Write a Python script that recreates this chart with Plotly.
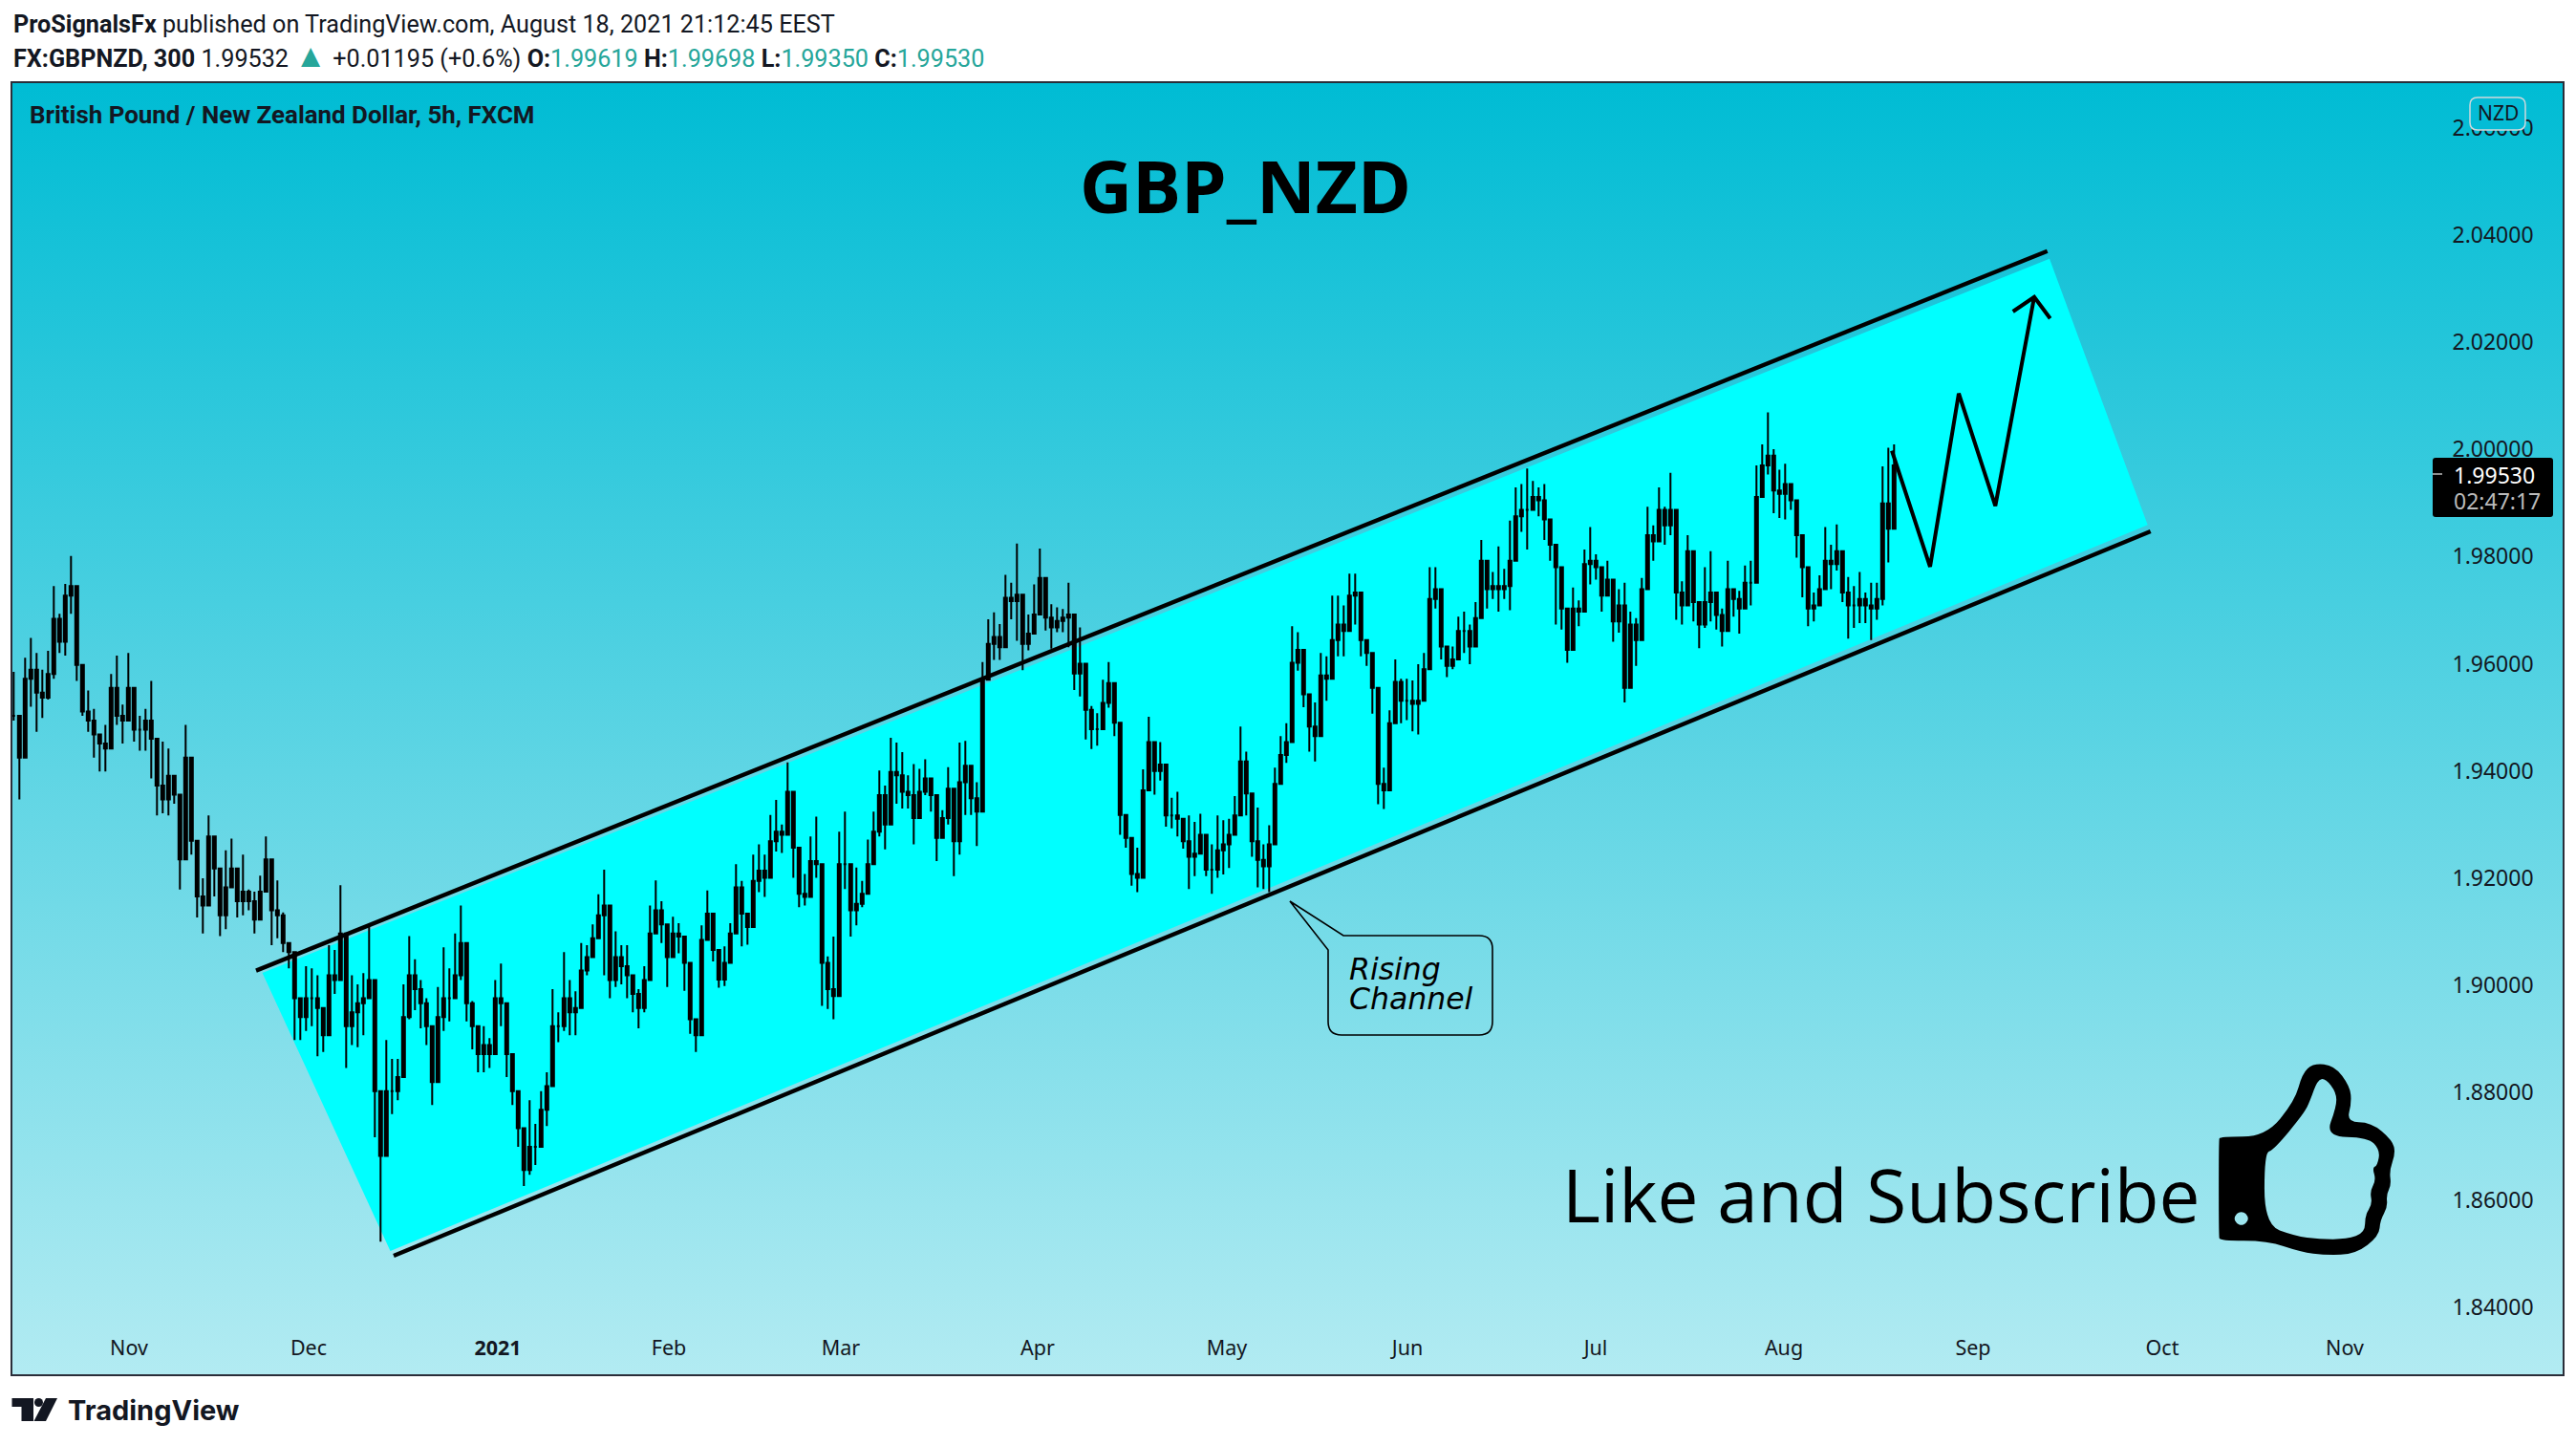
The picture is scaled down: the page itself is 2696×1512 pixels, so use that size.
import base64

import plotly.graph_objects as go

# GBPNZD 5h, sampled every third bar
bar_high = [
    1.9585, 1.9503, 1.9611, 1.9648, 1.9620, 1.9589, 1.9624, 1.9745, 1.9693, 1.9749,
    1.9801, 1.9632, 1.9589, 1.9550, 1.9516, 1.9468, 1.9486, 1.9581, 1.9615, 1.9524,
    1.9620, 1.9516, 1.9503, 1.9516, 1.9568, 1.9429, 1.9455, 1.9442, 1.9382, 1.9317,
    1.9486, 1.9330, 1.9226, 1.9200, 1.9317, 1.9244, 1.9162, 1.9252, 1.9274, 1.9179,
    1.9244, 1.9179, 1.9175, 1.9205, 1.9278, 1.9166, 1.9196, 1.9136, 1.9079, 1.9045,
    1.8971, 1.9036, 1.9032, 1.9019, 1.8946, 1.9075, 1.9066, 1.9187, 1.9079, 1.9019,
    1.9002, 1.9023, 1.9110, 1.8976, 1.8768, 1.8898, 1.8863, 1.8863, 1.9002, 1.9092,
    1.9049, 1.9010, 1.8976, 1.8907, 1.8997, 1.9071, 1.9032, 1.9097, 1.9149, 1.9019,
    1.8971, 1.8911, 1.8924, 1.8902, 1.9010, 1.9041, 1.8933, 1.8872, 1.8794, 1.8725,
    1.8786, 1.8742, 1.8803, 1.8838, 1.8993, 1.8950, 1.9062, 1.9010, 1.8989, 1.9079,
    1.9075, 1.9114, 1.9170, 1.9216, 1.9062, 1.9101, 1.9075, 1.9075, 1.9019, 1.8993,
    1.9036, 1.9149, 1.9196, 1.9157, 1.9105,
    1.9128, 1.9116, 1.9091, 1.8987, 1.8931, 1.9112, 1.9177, 1.9088, 1.9042, 1.9073,
    1.9116, 1.9226, 1.9195, 1.9134, 1.9244, 1.9263, 1.9244, 1.9318, 1.9346, 1.9300,
    1.9416, 1.9355, 1.9220, 1.9208, 1.9278, 1.9315, 1.9152, 1.9054, 1.9091, 1.9287,
    1.9324, 1.9183, 1.9220, 1.9195, 1.9272, 1.9324, 1.9401, 1.9373, 1.9462, 1.9453,
    1.9435, 1.9392, 1.9413, 1.9404, 1.9422, 1.9382, 1.9312, 1.9327, 1.9407, 1.9355,
    1.9453, 1.9456, 1.9376, 1.9379, 1.9603, 1.9683, 1.9696, 1.9674, 1.9766, 1.9751,
    1.9824, 1.9702, 1.9692, 1.9748, 1.9815, 1.9714, 1.9711, 1.9705, 1.9702, 1.9751,
    1.9628, 1.9668, 1.9582, 1.9521, 1.9508, 1.9570, 1.9603, 1.9514, 1.9459, 1.9293,
    1.9257, 1.9257,
    1.9403, 1.9501, 1.9442, 1.9454, 1.9341, 1.9350, 1.9361, 1.9296, 1.9317, 1.9305,
    1.9320, 1.9246, 1.9263, 1.9317, 1.9308, 1.9311, 1.9353, 1.9483, 1.9436, 1.9329,
    1.9332, 1.9263, 1.9299, 1.9406, 1.9465, 1.9489, 1.9670, 1.9659, 1.9578, 1.9537,
    1.9528, 1.9620, 1.9614, 1.9727, 1.9727, 1.9709, 1.9768, 1.9768, 1.9679, 1.9644,
    1.9587, 1.9421, 1.9406, 1.9513, 1.9608, 1.9572, 1.9572, 1.9569, 1.9599, 1.9620,
    1.9780, 1.9780, 1.9661, 1.9614, 1.9632, 1.9688, 1.9697, 1.9673, 1.9715, 1.9831,
    1.9774, 1.9771, 1.9819, 1.9777, 1.9867, 1.9929, 1.9935, 1.9964, 1.9941, 1.9929,
    1.9935, 1.9852, 1.9813,
    1.9727, 1.9673, 1.9742, 1.9718, 1.9813, 1.9855, 1.9804, 1.9751, 1.9792, 1.9706,
    1.9739, 1.9751, 1.9697, 1.9685, 1.9760, 1.9893, 1.9858, 1.9929, 1.9893, 1.9956,
    1.9813, 1.9754, 1.9840, 1.9754, 1.9715, 1.9780, 1.9810, 1.9727, 1.9703, 1.9792,
    1.9739, 1.9736, 1.9783, 1.9792, 1.9970, 2.0009, 2.0069, 2.0000, 1.9962, 1.9973,
    1.9932, 1.9884, 1.9828, 1.9765, 1.9733, 1.9765, 1.9855, 1.9822, 1.9860, 1.9759,
    1.9762, 1.9745, 1.9771, 1.9733, 1.9751, 1.9751, 1.9968, 2.0003, 2.0009,
]
bar_low = [
    1.9494, 1.9347, 1.9468, 1.9520, 1.9473, 1.9499, 1.9533, 1.9572, 1.9620, 1.9615,
    1.9693, 1.9568, 1.9503, 1.9473, 1.9425, 1.9399, 1.9399, 1.9503, 1.9486, 1.9451,
    1.9524, 1.9455, 1.9438, 1.9438, 1.9386, 1.9317, 1.9321, 1.9317, 1.9339, 1.9179,
    1.9304, 1.9244, 1.9127, 1.9097, 1.9200, 1.9166, 1.9092, 1.9105, 1.9183, 1.9127,
    1.9131, 1.9140, 1.9097, 1.9149, 1.9183, 1.9075, 1.9088, 1.9062, 1.9032, 1.8898,
    1.8898, 1.8915, 1.8924, 1.8868, 1.8876, 1.8924, 1.8984, 1.9028, 1.8846, 1.8889,
    1.8885, 1.8907, 1.8976, 1.8717, 1.8522, 1.8751, 1.8760, 1.8786, 1.8889, 1.8937,
    1.8954, 1.8920, 1.8889, 1.8777, 1.8872, 1.8915, 1.8933, 1.8984, 1.9010, 1.8933,
    1.8881, 1.8838, 1.8838, 1.8846, 1.8889, 1.8924, 1.8829, 1.8777, 1.8699, 1.8626,
    1.8647, 1.8665, 1.8734, 1.8738, 1.8863, 1.8894, 1.8915, 1.8907, 1.8907, 1.8976,
    1.9019, 1.9062, 1.9097, 1.9019, 1.8976, 1.8997, 1.9002, 1.8976, 1.8950, 1.8920,
    1.8950, 1.9036, 1.9097, 1.9079, 1.8997,
    1.9051, 1.9060, 1.8990, 1.8910, 1.8876, 1.9017, 1.9091, 1.9045, 1.8996, 1.8999,
    1.9066, 1.9146, 1.9073, 1.9076, 1.9161, 1.9174, 1.9165, 1.9241, 1.9250, 1.9247,
    1.9330, 1.9201, 1.9146, 1.9149, 1.9201, 1.9201, 1.8962, 1.8956, 1.8937, 1.9085,
    1.9180, 1.9091, 1.9112, 1.9146, 1.9180, 1.9226, 1.9278, 1.9254, 1.9330, 1.9339,
    1.9330, 1.9330, 1.9263, 1.9336, 1.9355, 1.9324, 1.9232, 1.9281, 1.9300, 1.9204,
    1.9244, 1.9318, 1.9318, 1.9260, 1.9379, 1.9594, 1.9607, 1.9607, 1.9705, 1.9683,
    1.9643, 1.9588, 1.9625, 1.9656, 1.9717, 1.9662, 1.9628, 1.9659, 1.9659, 1.9631,
    1.9551, 1.9539, 1.9459, 1.9441, 1.9447, 1.9493, 1.9518, 1.9465, 1.9281, 1.9257,
    1.9186, 1.9174,
    1.9284, 1.9388, 1.9356, 1.9382, 1.9296, 1.9293, 1.9278, 1.9255, 1.9180, 1.9204,
    1.9246, 1.9204, 1.9171, 1.9201, 1.9207, 1.9219, 1.9284, 1.9364, 1.9317, 1.9240,
    1.9183, 1.9180, 1.9174, 1.9341, 1.9397, 1.9415, 1.9513, 1.9587, 1.9519, 1.9436,
    1.9418, 1.9531, 1.9531, 1.9602, 1.9614, 1.9614, 1.9673, 1.9673, 1.9614, 1.9596,
    1.9507, 1.9338, 1.9329, 1.9454, 1.9507, 1.9489, 1.9495, 1.9474, 1.9468, 1.9558,
    1.9673, 1.9703, 1.9608, 1.9575, 1.9590, 1.9620, 1.9620, 1.9599, 1.9656, 1.9751,
    1.9703, 1.9721, 1.9697, 1.9721, 1.9700, 1.9834, 1.9846, 1.9813, 1.9893, 1.9875,
    1.9831, 1.9792, 1.9673,
    1.9664, 1.9602, 1.9667, 1.9670, 1.9763, 1.9748, 1.9757, 1.9697, 1.9727, 1.9641,
    1.9658, 1.9528, 1.9650, 1.9596, 1.9703, 1.9792, 1.9792, 1.9863, 1.9822, 1.9840,
    1.9682, 1.9673, 1.9774, 1.9679, 1.9629, 1.9667, 1.9679, 1.9664, 1.9632, 1.9709,
    1.9688, 1.9656, 1.9721, 1.9709, 1.9816, 1.9923, 1.9953, 1.9881, 1.9872, 1.9869,
    1.9887, 1.9798, 1.9724, 1.9670, 1.9679, 1.9715, 1.9762, 1.9739, 1.9774, 1.9715,
    1.9647, 1.9667, 1.9676, 1.9676, 1.9644, 1.9682, 1.9709, 1.9789, 1.9917,
]
bar_close = [
    1.9503, 1.9425, 1.9572, 1.9589, 1.9546, 1.9537, 1.9581, 1.9684, 1.9641, 1.9727,
    1.9745, 1.9598, 1.9511, 1.9494, 1.9468, 1.9451, 1.9442, 1.9555, 1.9503, 1.9494,
    1.9555, 1.9477, 1.9477, 1.9494, 1.9460, 1.9373, 1.9347, 1.9391, 1.9356, 1.9235,
    1.9425, 1.9270, 1.9166, 1.9149, 1.9278, 1.9218, 1.9131, 1.9183, 1.9218, 1.9157,
    1.9175, 1.9157, 1.9123, 1.9175, 1.9235, 1.9140, 1.9131, 1.9079, 1.9062, 1.8976,
    1.8941, 1.8976, 1.8976, 1.8958, 1.8907, 1.9019, 1.9010, 1.9097, 1.8924, 1.8950,
    1.8967, 1.8976, 1.9010, 1.8803, 1.8682, 1.8803, 1.8803, 1.8829, 1.8941, 1.9019,
    1.8993, 1.8967, 1.8924, 1.8820, 1.8941, 1.8976, 1.8976, 1.9019, 1.9079, 1.8967,
    1.8924, 1.8872, 1.8889, 1.8872, 1.8976, 1.8967, 1.8872, 1.8803, 1.8734, 1.8656,
    1.8699, 1.8699, 1.8768, 1.8812, 1.8924, 1.8924, 1.8976, 1.8950, 1.8958, 1.9028,
    1.9053, 1.9088, 1.9131, 1.9149, 1.9010, 1.9053, 1.9036, 1.9019, 1.8984, 1.8958,
    1.9010, 1.9097, 1.9140, 1.9114, 1.9053,
    1.9097, 1.9091, 1.9042, 1.8937, 1.8907, 1.9085, 1.9134, 1.9066, 1.9011, 1.9042,
    1.9097, 1.9183, 1.9134, 1.9109, 1.9195, 1.9214, 1.9201, 1.9269, 1.9287, 1.9281,
    1.9361, 1.9257, 1.9171, 1.9165, 1.9232, 1.9226, 1.9042, 1.8993, 1.8980, 1.9226,
    1.9226, 1.9140, 1.9152, 1.9171, 1.9226, 1.9287, 1.9355, 1.9300, 1.9398, 1.9392,
    1.9361, 1.9355, 1.9312, 1.9361, 1.9386, 1.9355, 1.9275, 1.9312, 1.9367, 1.9269,
    1.9379, 1.9410, 1.9349, 1.9324, 1.9570, 1.9637, 1.9650, 1.9631, 1.9723, 1.9717,
    1.9729, 1.9637, 1.9656, 1.9692, 1.9760, 1.9686, 1.9668, 1.9680, 1.9686, 1.9692,
    1.9582, 1.9600, 1.9514, 1.9478, 1.9478, 1.9527, 1.9564, 1.9490, 1.9318, 1.9275,
    1.9208, 1.9201,
    1.9364, 1.9454, 1.9400, 1.9412, 1.9317, 1.9317, 1.9311, 1.9269, 1.9240, 1.9246,
    1.9281, 1.9216, 1.9216, 1.9252, 1.9263, 1.9281, 1.9317, 1.9418, 1.9358, 1.9269,
    1.9234, 1.9222, 1.9263, 1.9376, 1.9430, 1.9454, 1.9602, 1.9626, 1.9543, 1.9483,
    1.9465, 1.9578, 1.9572, 1.9644, 1.9673, 1.9661, 1.9727, 1.9733, 1.9644, 1.9620,
    1.9555, 1.9376, 1.9364, 1.9489, 1.9566, 1.9531, 1.9531, 1.9525, 1.9531, 1.9590,
    1.9721, 1.9739, 1.9632, 1.9596, 1.9608, 1.9661, 1.9661, 1.9632, 1.9685, 1.9792,
    1.9739, 1.9745, 1.9739, 1.9745, 1.9792, 1.9875, 1.9887, 1.9887, 1.9911, 1.9905,
    1.9869, 1.9822, 1.9780,
    1.9703, 1.9626, 1.9703, 1.9697, 1.9786, 1.9792, 1.9780, 1.9727, 1.9757, 1.9679,
    1.9709, 1.9555, 1.9673, 1.9644, 1.9739, 1.9840, 1.9828, 1.9887, 1.9858, 1.9887,
    1.9733, 1.9709, 1.9810, 1.9715, 1.9673, 1.9715, 1.9733, 1.9691, 1.9661, 1.9739,
    1.9721, 1.9703, 1.9751, 1.9751, 1.9911, 1.9970, 1.9988, 1.9923, 1.9917, 1.9935,
    1.9905, 1.9840, 1.9780, 1.9703, 1.9709, 1.9739, 1.9792, 1.9786, 1.9810, 1.9733,
    1.9709, 1.9709, 1.9721, 1.9709, 1.9703, 1.9721, 1.9899, 1.9852, 1.9970,
]

# drawings, x in bars from the left edge of the pane
channel_x = [130.8, 1066.0, 1117.35, 197.75]
channel_y = [1.90234, 2.03554, 1.98588, 1.85047]
top_line_x = [127.5, 1064.85]
top_line_y = [1.90277, 2.03697]
bottom_line_x = [199.5, 1118.85]
bottom_line_y = [1.84957, 1.98469]
path_x = [983.5, 1003.5, 1018.5, 1037.65, 1058.0]
path_y = [1.99972, 1.97809, 2.01041, 1.98945, 2.02841]
arrow_x = [1046.85, 1058.0, 1066.35]
arrow_y = [2.02569, 2.02841, 2.02439]

y_ticks = [1.84, 1.86, 1.88, 1.90, 1.92, 1.94, 1.96, 1.98, 2.00, 2.02, 2.04, 2.06]
month_ticks = [61, 155, 254, 343.5, 433.5, 536.5, 635.5, 730, 828.5, 927, 1026, 1125, 1220.5]
month_labels = ["Nov", "Dec", "<b>2021</b>", "Feb", "Mar", "Apr", "May", "Jun", "Jul", "Aug", "Sep", "Oct", "Nov"]

X_MAX = 1334.5
Y_MIN, Y_MAX = 1.82748, 2.06829
TEXT = "#131722"
GREEN = "#26a69a"


def xp(px):
    return (px - 13) / 2669


def yp(py):
    return (1438 - py) / 1351


def rounded_box(x0, y0, x1, y1, r):
    return (
        f"M {xp(x0 + r)} {yp(y0)} L {xp(x1 - r)} {yp(y0)} Q {xp(x1)} {yp(y0)} {xp(x1)} {yp(y0 + r)} "
        f"L {xp(x1)} {yp(y1 - r)} Q {xp(x1)} {yp(y1)} {xp(x1 - r)} {yp(y1)} "
        f"L {xp(x0 + r)} {yp(y1)} Q {xp(x0)} {yp(y1)} {xp(x0)} {yp(y1 - r)} "
        f"L {xp(x0)} {yp(y0 + r)} Q {xp(x0)} {yp(y0)} {xp(x0 + r)} {yp(y0)} Z"
    )


def poly(points):
    return "M " + " L ".join(f"{xp(x)} {yp(y)}" for x, y in points) + " Z"


def thumb_pt(zx, zy):
    return 1560 + zx / 1.568, 1080 + zy / 3


def smooth(points):
    # closed curve through the midpoints of the outline
    pts = [thumb_pt(*p) for p in points]
    mids = [((a[0] + b[0]) / 2, (a[1] + b[1]) / 2) for a, b in zip(pts, pts[1:] + pts[:1])]
    out = f"M {xp(mids[-1][0])} {yp(mids[-1][1])}"
    for p, m in zip(pts, mids):
        out += f" Q {xp(p[0])} {yp(p[1])} {xp(m[0])} {yp(m[1])}"
    return out + " Z"


thumb_outer = [(1195, 340), (1197, 328), (1272, 328), (1320, 215), (1332, 130), (1350, 98), (1385, 105),
               (1410, 170), (1413, 220), (1405, 283), (1445, 283), (1480, 340), (1485, 380), (1475, 435),
               (1478, 480), (1470, 510), (1472, 550), (1460, 590), (1458, 640), (1420, 697), (1370, 700),
               (1330, 690), (1275, 655), (1197, 655), (1195, 640)]
thumb_inner = [(1270, 378), (1285, 370), (1335, 255), (1345, 215), (1357, 150), (1370, 145), (1388, 190),
               (1388, 235), (1370, 328), (1440, 330), (1460, 370), (1455, 420), (1447, 425), (1453, 465),
               (1443, 500), (1447, 540), (1435, 575), (1435, 630), (1405, 650), (1360, 650), (1320, 640),
               (1270, 605)]
thumb_hole = [(1232, 563), (1240, 570), (1244, 585), (1240, 600), (1232, 607), (1224, 600), (1220, 585), (1224, 570)]
thumb_path = " ".join(smooth(part) for part in (thumb_outer, thumb_inner, thumb_hole))

bar_x = [0.65 + 3 * i for i in range(len(bar_close))]
bar_open = [bar_close[0]] + bar_close[:-1]

# candles sit below scatter fills, so background and channel go under all traces
gradient_svg = (
    '<svg xmlns="http://www.w3.org/2000/svg" width="2669" height="1351">'
    '<defs><linearGradient id="g" x1="0" y1="0" x2="0" y2="1">'
    '<stop offset="0" stop-color="#00bcd4"/><stop offset="1" stop-color="#b2ebf2"/>'
    '</linearGradient></defs><rect width="2669" height="1351" fill="url(#g)"/></svg>'
)
gradient_src = "data:image/svg+xml;base64," + base64.b64encode(gradient_svg.encode()).decode()

fig = go.Figure()

fig.add_trace(go.Candlestick(
    x=bar_x, open=bar_open, high=bar_high, low=bar_low, close=bar_close,
    increasing=dict(line=dict(color="black", width=2), fillcolor="black"),
    decreasing=dict(line=dict(color="black", width=2), fillcolor="black"),
    whiskerwidth=0,
))
for lx, ly, w in [(top_line_x, top_line_y, 4.4), (bottom_line_x, bottom_line_y, 4.4),
                  (path_x, path_y, 4), (arrow_x, arrow_y, 4)]:
    fig.add_trace(go.Scatter(x=lx, y=ly, mode="lines", line=dict(color="black", width=w), hoverinfo="skip"))

channel_path = "M " + " L ".join(f"{x} {y}" for x, y in zip(channel_x, channel_y)) + " Z"

shapes = [
    dict(type="path", xref="x", yref="y", path=channel_path, fillcolor="#00ffff",
         line=dict(width=0), layer="below"),
    dict(type="path", xref="paper", yref="paper", path=rounded_box(2546, 479, 2672, 541, 3),
         fillcolor="black", line=dict(width=0), layer="above"),
    dict(type="line", xref="paper", yref="paper", x0=xp(2546), x1=xp(2556), y0=yp(496), y1=yp(496),
         line=dict(color="#bbbbbb", width=1.5), layer="above"),
    dict(type="path", xref="paper", yref="paper", path=rounded_box(2585, 102, 2643, 136, 8),
         fillcolor="#04bcd6", line=dict(color="#cfd8dc", width=1.5), layer="above"),
    # callout
    dict(type="path", xref="paper", yref="paper",
         path=(f"M {xp(1350)} {yp(943)} L {xp(1406)} {yp(979)} L {xp(1548)} {yp(979)} "
               f"Q {xp(1562)} {yp(979)} {xp(1562)} {yp(993)} L {xp(1562)} {yp(1069)} "
               f"Q {xp(1562)} {yp(1083)} {xp(1548)} {yp(1083)} L {xp(1404)} {yp(1083)} "
               f"Q {xp(1390)} {yp(1083)} {xp(1390)} {yp(1069)} L {xp(1390)} {yp(994)} Z"),
         line=dict(color="black", width=1.6), layer="above"),
    # thumb
    dict(type="path", xref="paper", yref="paper", path=thumb_path, fillcolor="black",
         fillrule="evenodd", line=dict(width=0), layer="above"),
    # TradingView mark
    dict(type="path", xref="paper", yref="paper",
         path=poly([(12.5, 1463), (35, 1463), (35, 1487), (22.5, 1487), (22.5, 1472), (12.5, 1472)]),
         fillcolor=TEXT, line=dict(width=0), layer="above"),
    dict(type="circle", xref="paper", yref="paper", x0=xp(36), x1=xp(45), y0=yp(1463), y1=yp(1472),
         fillcolor=TEXT, line=dict(width=0), layer="above"),
    dict(type="path", xref="paper", yref="paper",
         path=poly([(48, 1463), (60, 1463), (48, 1487), (35.5, 1487)]),
         fillcolor=TEXT, line=dict(width=0), layer="above"),
]


def note(px, py, text, size, color=TEXT, family="Roboto", anchor="left"):
    return dict(xref="paper", yref="paper", x=xp(px), y=yp(py), text=text, showarrow=False,
                xanchor=anchor, yanchor="middle", align="left",
                font=dict(family=family, size=size, color=color))


def green(s):
    return f"<span style='color:{GREEN}'>{s}</span>"


line_two = (f"<b>FX:GBPNZD, 300</b> 1.99532 <span style='color:{GREEN};font-size:34px'>▲</span> +0.01195 (+0.6%) "
            f"<b>O:</b>{green('1.99619')} <b>H:</b>{green('1.99698')} "
            f"<b>L:</b>{green('1.99350')} <b>C:</b>{green('1.99530')}")

annotations = [
    note(12, 25, "<b>ProSignalsFx</b> published on TradingView.com, August 18, 2021 21:12:45 EEST", 25.2),
    note(12, 58, line_two, 25.2),
    note(29, 120, "<b>British Pound / New Zealand Dollar, 5h, FXCM</b>", 25.9),
    note(1303, 193, "<b>GBP_NZD</b>", 76, color="black", family="Open Sans", anchor="center"),
    note(1633, 1249, "Like and Subscribe", 76.5, color="black", family="Open Sans"),
    note(1410, 1014, "<i>Rising</i>", 31.5, color="black", family="DejaVu Sans"),
    note(1410, 1045, "<i>Channel</i>", 31.5, color="black", family="DejaVu Sans"),
    note(2566, 497, "1.99530", 23, color="white", family="Noto Sans"),
    note(2566, 524, "02:47:17", 23, color="#bbbbbb", family="Noto Sans"),
    note(2614, 118, "NZD", 21, family="Noto Sans", anchor="center"),
    note(69, 1475, "<b>TradingView</b>", 29, family="Inter"),
]

fig.update_layout(
    width=2696, height=1512,
    margin=dict(l=13, r=14, t=87, b=74, autoexpand=False),
    paper_bgcolor="white",
    plot_bgcolor="#b2ebf2",
    showlegend=False,
    boxgap=0.5, boxgroupgap=0,
    images=[dict(source=gradient_src, xref="paper", yref="paper", x=0, y=1, sizex=1, sizey=1,
                 sizing="stretch", xanchor="left", yanchor="top", layer="below")],
    shapes=shapes, annotations=annotations,
    xaxis=dict(range=[0, X_MAX], rangeslider=dict(visible=False), showgrid=False, zeroline=False,
               tickmode="array", tickvals=month_ticks, ticktext=month_labels,
               ticklabelposition="inside", ticklabelstandoff=17, ticks="",
               tickfont=dict(family="Noto Sans", size=21.5, color=TEXT),
               showline=True, mirror=True, linecolor="#2a2e39", linewidth=2),
    yaxis=dict(range=[Y_MIN, Y_MAX], side="right", showgrid=False, zeroline=False,
               tickmode="array", tickvals=y_ticks, ticktext=[f"{v:.5f}" for v in y_ticks],
               ticklabelposition="inside", ticklabelstandoff=32, ticks="",
               tickfont=dict(family="Noto Sans", size=23, color=TEXT),
               showline=True, mirror=True, linecolor="#2a2e39", linewidth=2),
)

fig.write_html("out.html", config=dict(displayModeBar=False),
               post_script="document.body.style.margin='0';document.body.style.overflow='hidden';")
